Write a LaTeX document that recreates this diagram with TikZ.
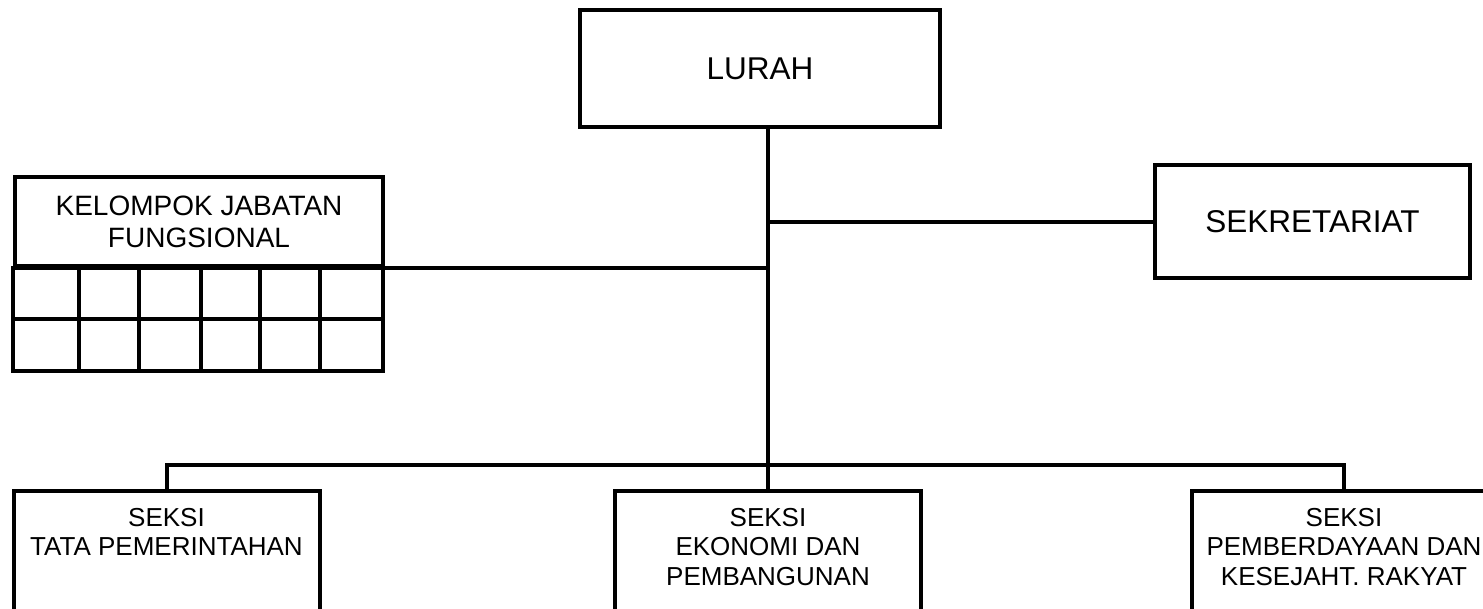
\documentclass[tikz,border=0pt]{standalone}
\usepackage{fontspec}
\setmainfont{Liberation Sans}
\usetikzlibrary{positioning}
\begin{document}
\begin{tikzpicture}[x=1pt,y=-1pt]
  \tikzstyle{unit}=[draw,line width=4pt,inner sep=0pt,align=center]
  \tikzstyle{head}=[unit,font=\fontsize{31.5}{36}\selectfont]
  \tikzstyle{seksi}=[unit,anchor=north,minimum width=306pt,minimum height=160pt]
  \tikzstyle{seksitext}=[inner sep=0pt,align=center,font=\fontsize{26}{29.5}\selectfont]
  \tikzstyle{link}=[line width=4pt]
  \def\bus{465} % height of the bottom bus line
  \def\seksitop{489} % top of the seksi boxes
  \useasboundingbox (0,0) rectangle (1483,608);
  \clip (0,0) rectangle (1483,608);
  % top level
  \node[head,minimum width=360pt,minimum height=117pt] (lurah) at (760,68.5) {LURAH};
  \node[head,minimum width=315pt,minimum height=113pt] (sekr) at (1312.5,221.5) {SEKRETARIAT};
  % functional group with its grid
  \node[unit,minimum width=368pt,minimum height=89pt,font=\fontsize{28}{32}\selectfont] (kjf) at (199,221.5) {KELOMPOK JABATAN\\FUNGSIONAL};
  \draw[link] (kjf.south west) rectangle (383,371);
  \draw[link] (15,318.5) -- (383,318.5);
  \foreach \x in {79,139,201,260,320}
    \draw[link] (\x,266) -- (\x,371);
  % seksi boxes
  \node[seksi] (tata) at (166.5,\seksitop) {};
  \node[seksi] (ekon) at (768,\seksitop) {};
  \node[seksi,minimum width=304pt] (pemb) at (1344,\seksitop) {};
  \node[seksitext,below=19pt of tata.north] (tatatext) {SEKSI\\TATA PEMERINTAHAN};
  \node[seksitext,below=19pt of ekon.north] (ekontext) {SEKSI\\EKONOMI DAN\\PEMBANGUNAN};
  \node[seksitext,below=19pt of pemb.north] (pembtext) {SEKSI\\PEMBERDAYAAN DAN\\KESEJAHT. RAKYAT};
  % connectors
  \coordinate (stem) at (lurah.south -| ekon.north);
  \coordinate (busmid) at (768,\bus);
  \draw[link] (stem) -- (ekon.north);
  \draw[link] (sekr.west) -- (sekr.west -| stem);
  \draw[link] (kjf.south east) -- (kjf.south east -| stem);
  \draw[link] (tata.north) |- (busmid) -| (pemb.north);
\end{tikzpicture}
\end{document}
